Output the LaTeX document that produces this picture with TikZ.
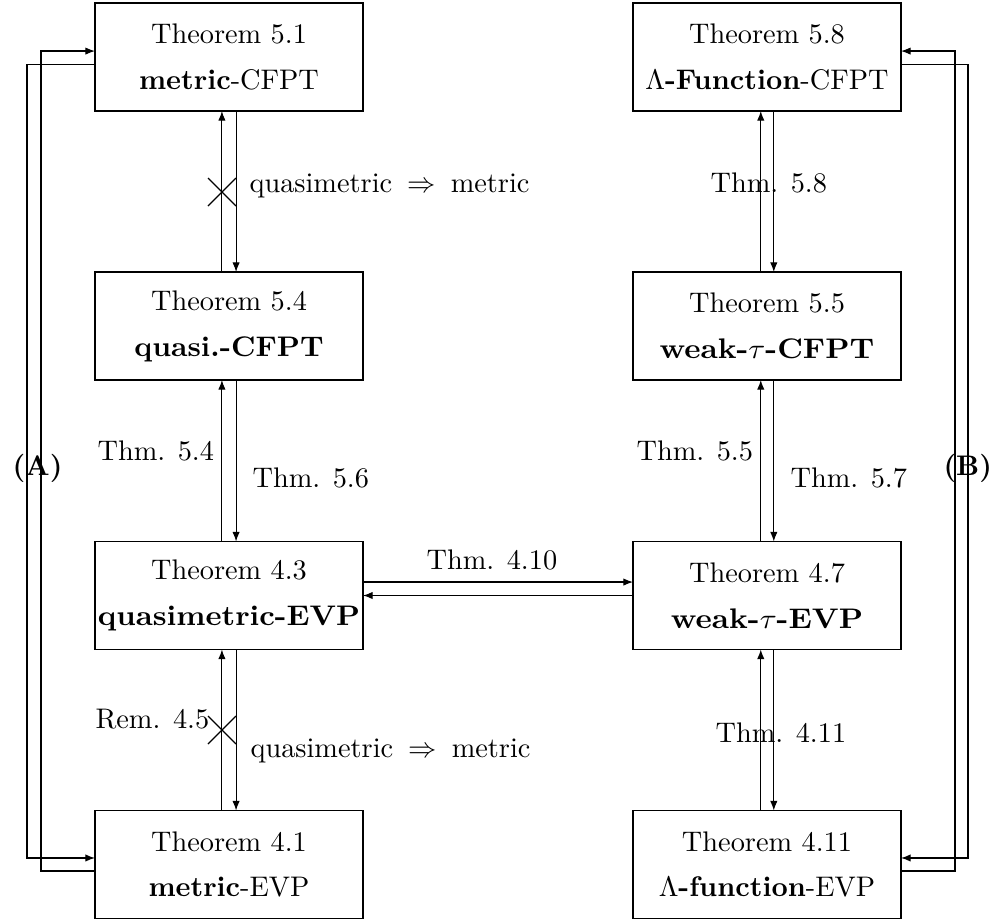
\documentclass[tikz,border=0pt]{standalone}
\usetikzlibrary{arrows.meta}
\begin{document}
\begin{tikzpicture}[x=0.353pt,y=-0.353pt,
  box/.style={draw, minimum width=94.6pt, minimum height=38.1pt, align=center, inner sep=0pt, outer sep=0pt},
  arr/.style={-{Latex[length=3.4pt,width=2.6pt]}},
  lbl/.style={inner sep=0pt, anchor=base west}]
\useasboundingbox (0,0) rectangle (993,922);

% boxes
\node[box] (t51) at (229,57) {Theorem 5.1\\[4.2pt]\textbf{metric}-CFPT};
\node[box] (t54) at (229,326) {Theorem 5.4\\[4.2pt]\scalebox{1.04}[1]{\textbf{quasi.-CFPT}}};
\node[box] (t43) at (229,595.5) {Theorem 4.3\\[4.2pt]\scalebox{1.075}[1]{\textbf{quasimetric-EVP}}};
\node[box] (t41) at (229,864.5) {Theorem 4.1\\[4.2pt]\textbf{metric}-EVP};
\node[box] (t58) at (767,57) {Theorem 5.8\\[4.2pt]$\Lambda$\textbf{-Function}-CFPT};
\node[box] (t55) at (767,326) {Theorem 5.5\\[4.2pt]\scalebox{1.09}[1]{\textbf{weak-$\tau$-CFPT}}};
\node[box] (t47) at (767,595.5) {Theorem 4.7\\[4.2pt]\scalebox{1.09}[1]{\textbf{weak-$\tau$-EVP}}};
\node[box] (t411) at (767,864.5) {Theorem 4.11\\[4.2pt]$\Lambda$\textbf{-function}-EVP};

% left column vertical arrows
\draw[arr] ([xshift=-2.5pt]t54.north) -- ([xshift=-2.5pt]t51.south);
\draw[arr] ([xshift=2.5pt]t51.south) -- ([xshift=2.5pt]t54.north);
\draw[arr] ([xshift=-2.5pt]t43.north) -- ([xshift=-2.5pt]t54.south);
\draw[arr] ([xshift=2.5pt]t54.south) -- ([xshift=2.5pt]t43.north);
\draw[arr] ([xshift=-2.5pt]t41.north) -- ([xshift=-2.5pt]t43.south);
\draw[arr] ([xshift=2.5pt]t43.south) -- ([xshift=2.5pt]t41.north);

% right column vertical arrows
\draw[arr] ([xshift=-2.2pt]t55.north) -- ([xshift=-2.2pt]t58.south);
\draw[arr] ([xshift=2.4pt]t58.south) -- ([xshift=2.4pt]t55.north);
\draw[arr] ([xshift=-2.2pt]t47.north) -- ([xshift=-2.2pt]t55.south);
\draw[arr] ([xshift=2.4pt]t55.south) -- ([xshift=2.4pt]t47.north);
\draw[arr] ([xshift=-2.2pt]t411.north) -- ([xshift=-2.2pt]t47.south);
\draw[arr] ([xshift=2.4pt]t47.south) -- ([xshift=2.4pt]t411.north);

% horizontal arrows
\draw[arr] ([yshift=4.75pt]t43.east) -- ([yshift=4.75pt]t47.west);
\draw[arr] (t47.west) -- (t43.east);

% loop (A)
\draw[arr] ([yshift=-2.3pt]t41.west) -- ++(-54,0) |- ([yshift=2.1pt]t51.west);
\draw[arr] ([yshift=-2.5pt]t51.west) -- ++(-68,0) |- ([yshift=2.3pt]t41.west);

% loop (B)
\draw[arr] ([yshift=-2.3pt]t411.east) -- ++(54,0) |- ([yshift=2.1pt]t58.east);
\draw[arr] ([yshift=-2.5pt]t58.east) -- ++(67,0) |- ([yshift=2.3pt]t411.east);

% crosses
\coordinate (c1) at (222,192);
\coordinate (c2) at (222,730);
\draw ([shift={(-14,-14)}]c1) -- ([shift={(14,14)}]c1)
      ([shift={(-14,14)}]c1) -- ([shift={(14,-14)}]c1);
\draw ([shift={(-14,-14)}]c2) -- ([shift={(14,14)}]c2)
      ([shift={(-14,14)}]c2) -- ([shift={(14,-14)}]c2);

% labels
\node[lbl] (q1) at (249,192) {quasimetric \kern2pt$\Rightarrow$\kern2pt\ metric};
\node[lbl] (l54) at (97,460) {Thm. 5.4};
\node[lbl] (l56) at (252,487) {Thm. 5.6};
\node[lbl] (l55) at (636,460) {Thm. 5.5};
\node[lbl] (l57) at (790,487) {Thm. 5.7};
\node[lbl] (l58) at (710,192) {Thm. 5.8};
\node[lbl] (l410) at (426,569) {Thm. 4.10};
\node[lbl] (r45) at (95,728) {Rem. 4.5};
\node[lbl] (q2) at (250,757) {quasimetric \kern2pt$\Rightarrow$\kern2pt\ metric};
\node[lbl] (l411) at (715,742) {Thm. 4.11};
\node[lbl,font=\bfseries] (A) at (12,475) {(A)};
\node[lbl,font=\bfseries] (B) at (943,475) {(B)};
\end{tikzpicture}
\end{document}
